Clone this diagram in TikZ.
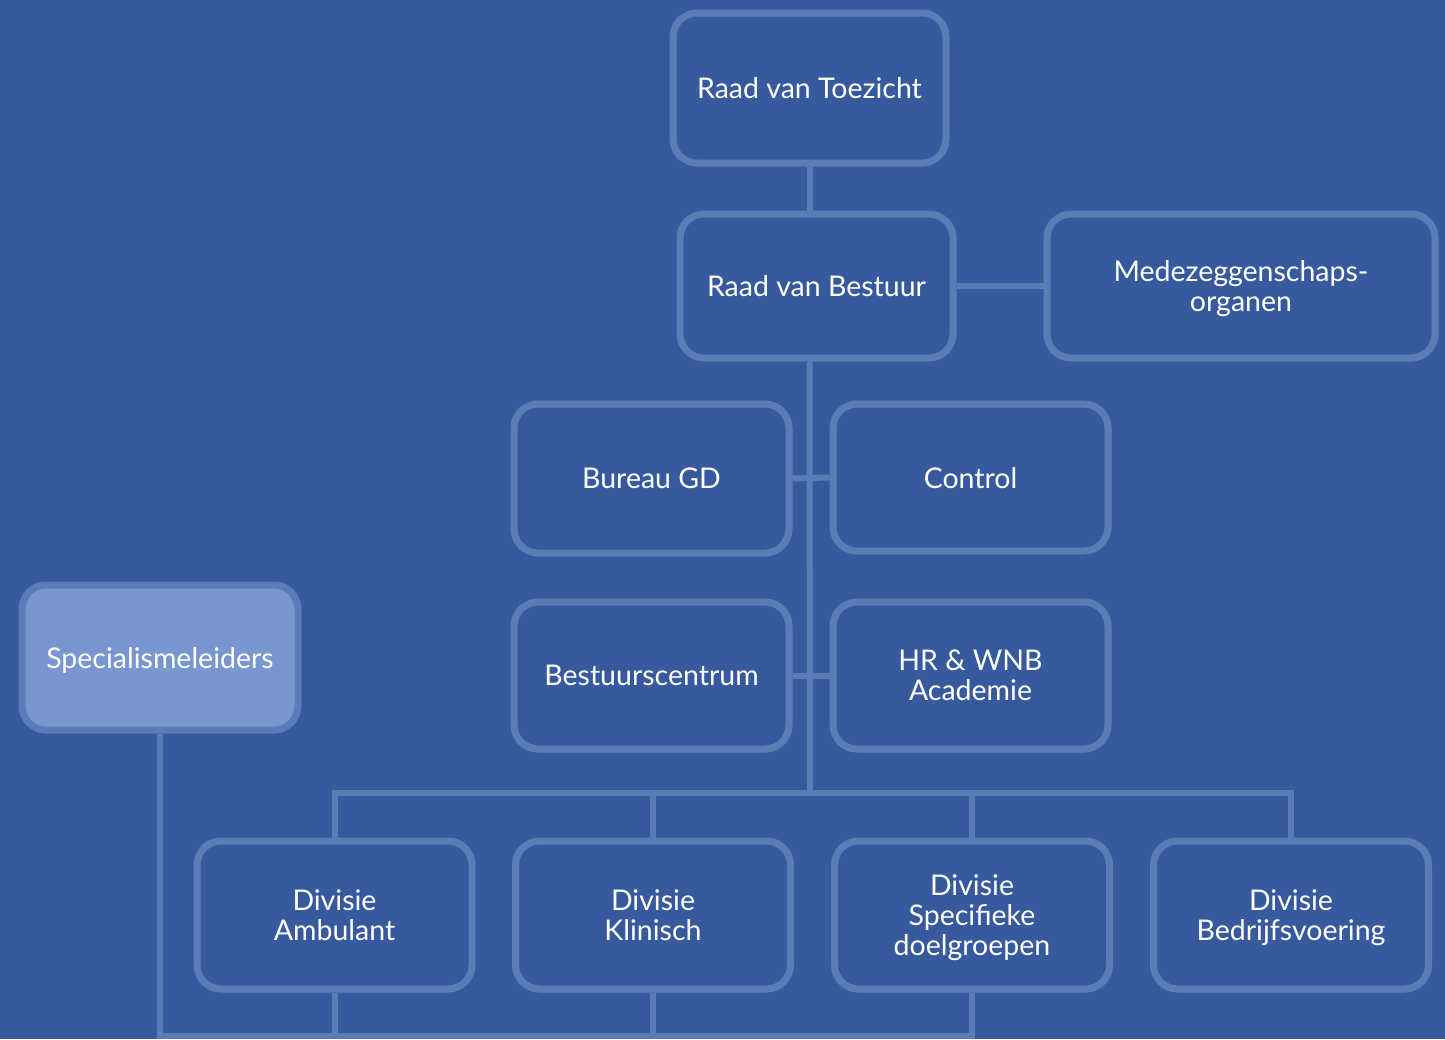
\documentclass[tikz,border=0pt]{standalone}
\usepackage{fontspec}
\setmainfont{Lato}
\definecolor{bgblue}{HTML}{375A9F}
\definecolor{linecol}{HTML}{5B7DB6}
\definecolor{lightfill}{HTML}{7897D0}
\begin{document}
\begin{tikzpicture}[x=1pt,y=-1pt,
  box/.style={draw=linecol, line width=7pt, rounded corners=24pt, inner sep=0pt,
    align=center, text=white, font=\fontsize{28.5}{30}\selectfont, text depth=0pt,
    minimum width=275pt, minimum height=148pt},
  conn/.style={draw=linecol, line width=6pt}]
\fill[bgblue] (0,0) rectangle (1445,1039);
\useasboundingbox (0,0) rectangle (1445,1039);
\node[box, minimum width=273pt, minimum height=150pt] (rvt) at (809.5,88) {Raad van Toezicht};
\node[box, minimum width=273pt, minimum height=144pt] (rvb) at (816.5,286) {Raad van Bestuur};
\node[box, minimum width=388pt, minimum height=144pt] (mede) at (1241,286) {Medezeggenschaps-\\organen};
\node[box, minimum height=149pt] (bgd) at (651.5,478.5) {Bureau GD};
\node[box, minimum height=147pt] (ctrl) at (970.5,477.5) {Control};
\node[box, minimum height=147pt] (bsc) at (651.5,675.5) {Bestuurscentrum};
\node[box, minimum height=147pt] (hr) at (970.5,675.5) {HR \& WNB\\Academie};
\node[box, fill=lightfill, minimum width=276pt, minimum height=145pt] (spl) at (160,657.5) {Specialismeleiders};
\node[box] (amb) at (334.5,915) {Divisie\\Ambulant};
\node[box] (kli) at (653,915) {Divisie\\Klinisch};
\node[box] (spec) at (972,915) {Divisie\\Specifieke\\doelgroepen};
\node[box] (bedr) at (1291,915) {Divisie\\Bedrijfsvoering};
\coordinate (bus) at (810,793);
\coordinate (bot) at (810,1036);
% connectors
\draw[conn] (rvt.south) -- (rvt.south |- rvb.north);
\draw[conn] (rvb.east) -- (mede.west);
\draw[conn] (rvt.south |- rvb.south) -- (bus);
\draw[conn] (bgd.east) -- (ctrl.west);
\draw[conn] (bsc.east) -- (hr.west);
\draw[conn] (amb.north) -- (amb.north |- bus) -- (bedr.north |- bus) -- (bedr.north);
\draw[conn] (kli.north) -- (kli.north |- bus);
\draw[conn] (spec.north) -- (spec.north |- bus);
\draw[conn] (spl.south) -- (spl.south |- bot) -- (spec.south |- bot) -- (spec.south);
\draw[conn] (amb.south) -- (amb.south |- bot);
\draw[conn] (kli.south) -- (kli.south |- bot);
\end{tikzpicture}
\end{document}
